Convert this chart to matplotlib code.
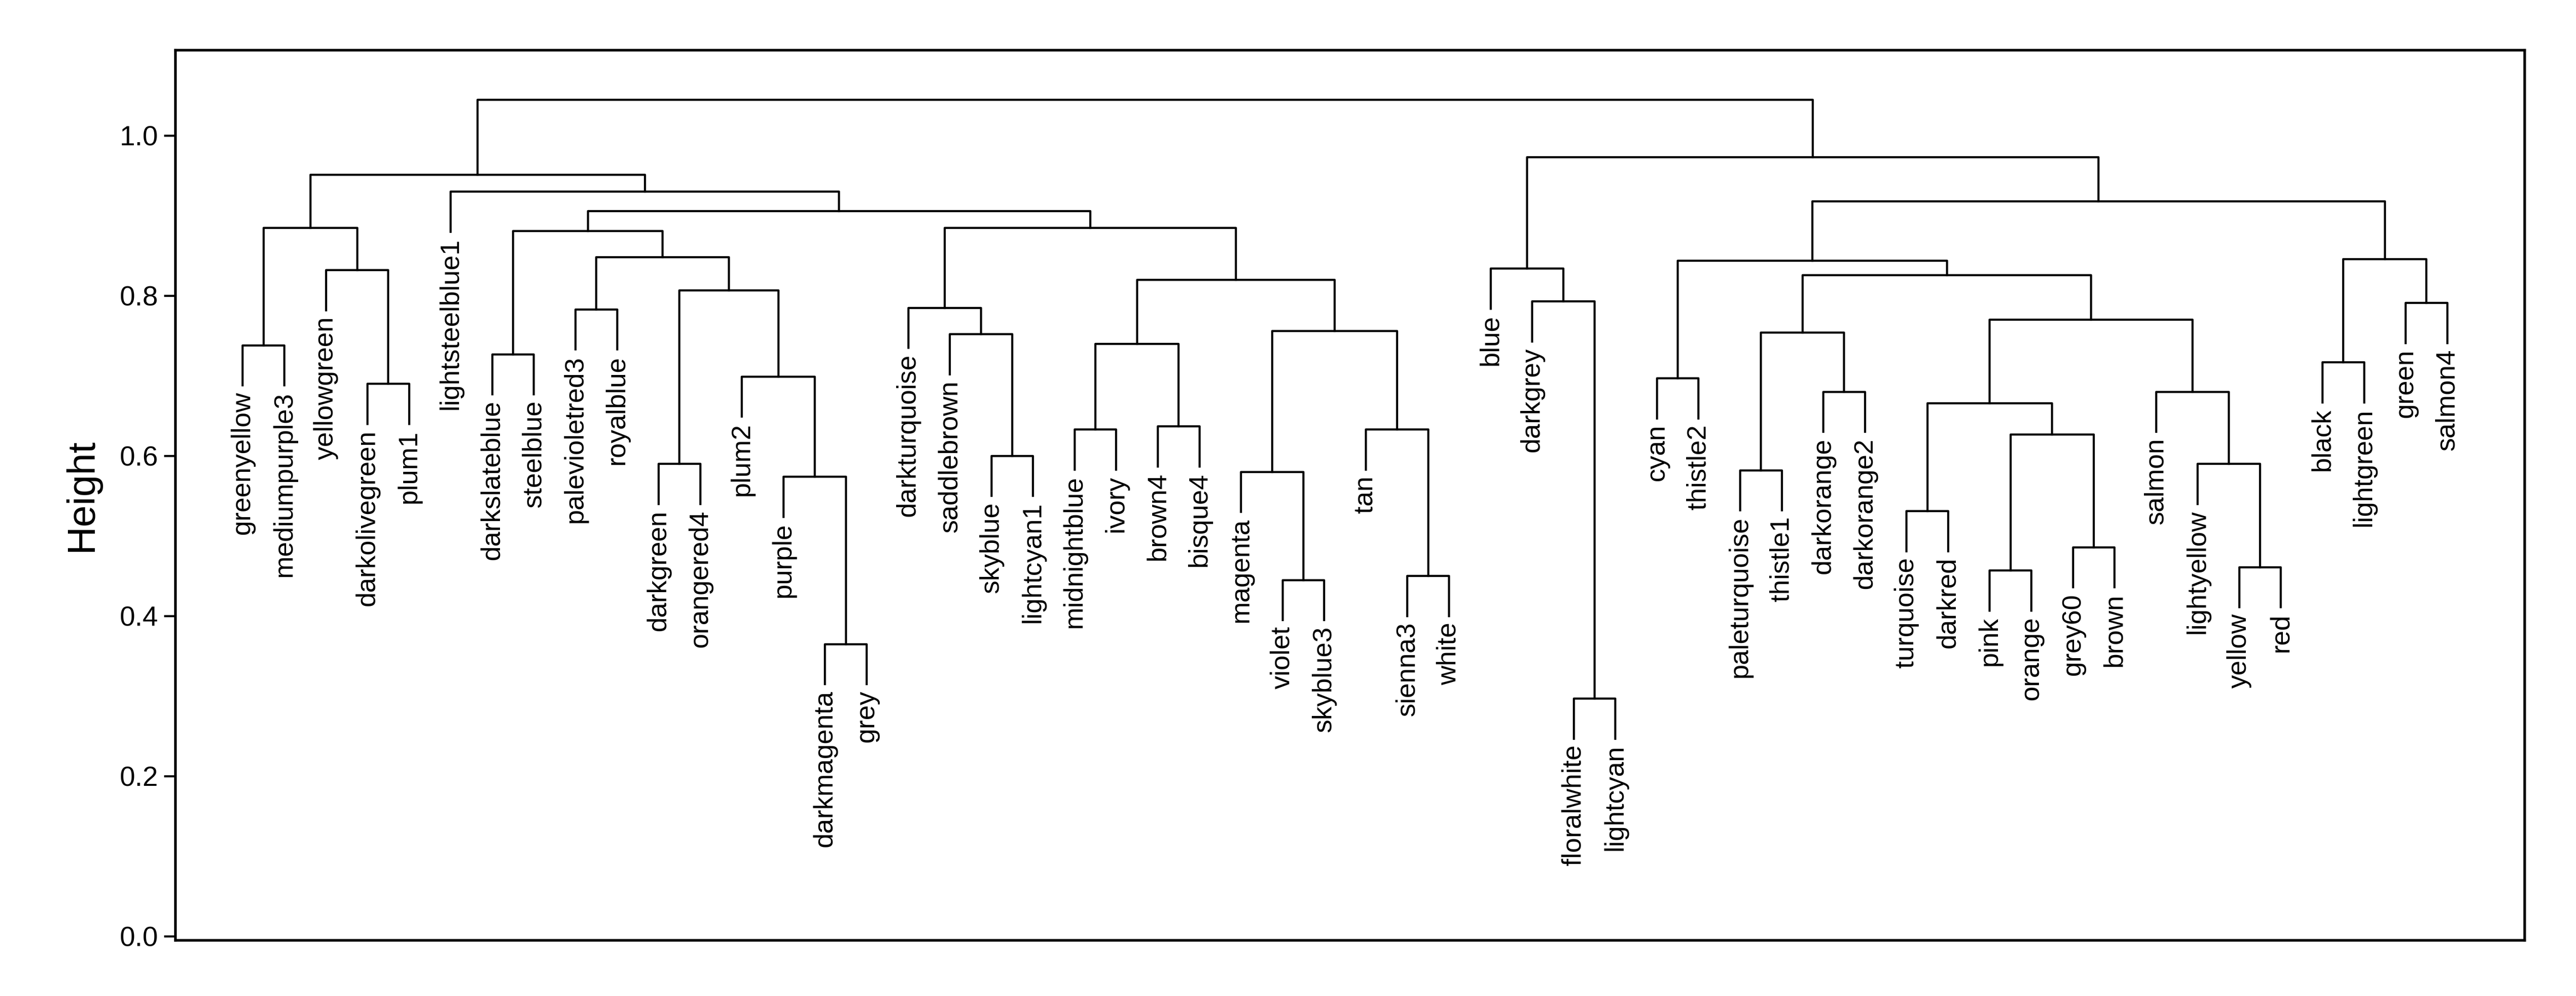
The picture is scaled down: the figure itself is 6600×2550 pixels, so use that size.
import matplotlib
matplotlib.use("Agg")
import matplotlib.pyplot as plt

plt.rcParams['font.family'] = ['Liberation Sans', 'DejaVu Sans']

leaves = ["greenyellow", "mediumpurple3", "yellowgreen", "darkolivegreen", "plum1",
          "lightsteelblue1", "darkslateblue", "steelblue", "palevioletred3", "royalblue",
          "darkgreen", "orangered4", "plum2", "purple", "darkmagenta", "grey",
          "darkturquoise", "saddlebrown", "skyblue", "lightcyan1", "midnightblue", "ivory",
          "brown4", "bisque4", "magenta", "violet", "skyblue3", "tan", "sienna3", "white",
          "blue", "darkgrey", "floralwhite", "lightcyan", "cyan", "thistle2",
          "paleturquoise", "thistle1", "darkorange", "darkorange2", "turquoise", "darkred",
          "pink", "orange", "grey60", "brown", "salmon", "lightyellow", "yellow", "red",
          "black", "lightgreen", "green", "salmon4"]

# merges: (child_a, child_b, height); ints refer to earlier merges
merges = [
    ("greenyellow", "mediumpurple3", 0.738),     # 0
    ("darkolivegreen", "plum1", 0.690),          # 1
    ("yellowgreen", 1, 0.832),                   # 2
    (0, 2, 0.885),                               # 3
    ("darkslateblue", "steelblue", 0.727),       # 4
    ("palevioletred3", "royalblue", 0.783),      # 5
    ("darkmagenta", "grey", 0.365),              # 6
    ("purple", 6, 0.574),                        # 7
    ("plum2", 7, 0.699),                         # 8
    ("darkgreen", "orangered4", 0.590),          # 9
    (9, 8, 0.807),                               # 10
    (5, 10, 0.848),                              # 11
    (4, 11, 0.881),                              # 12
    ("skyblue", "lightcyan1", 0.600),            # 13
    ("saddlebrown", 13, 0.752),                  # 14
    ("darkturquoise", 14, 0.785),                # 15
    ("midnightblue", "ivory", 0.633),            # 16
    ("brown4", "bisque4", 0.637),                # 17
    (16, 17, 0.740),                             # 18
    ("violet", "skyblue3", 0.445),               # 19
    ("magenta", 19, 0.580),                      # 20
    ("sienna3", "white", 0.450),                 # 21
    ("tan", 21, 0.633),                          # 22
    (20, 22, 0.756),                             # 23
    (18, 23, 0.820),                             # 24
    (15, 24, 0.885),                             # 25
    (12, 25, 0.906),                             # 26
    ("lightsteelblue1", 26, 0.930),              # 27
    (3, 27, 0.951),                              # 28
    ("floralwhite", "lightcyan", 0.297),         # 29
    ("darkgrey", 29, 0.793),                     # 30
    ("blue", 30, 0.834),                         # 31
    ("cyan", "thistle2", 0.697),                 # 32
    ("paleturquoise", "thistle1", 0.582),        # 33
    ("darkorange", "darkorange2", 0.680),        # 34
    (33, 34, 0.754),                             # 35
    ("turquoise", "darkred", 0.531),             # 36
    ("pink", "orange", 0.457),                   # 37
    ("grey60", "brown", 0.486),                  # 38
    (37, 38, 0.627),                             # 39
    (36, 39, 0.666),                             # 40
    ("yellow", "red", 0.461),                    # 41
    ("lightyellow", 41, 0.590),                  # 42
    ("salmon", 42, 0.680),                       # 43
    (40, 43, 0.770),                             # 44
    (35, 44, 0.826),                             # 45
    (32, 45, 0.844),                             # 46
    ("black", "lightgreen", 0.717),              # 47
    ("green", "salmon4", 0.791),                 # 48
    (47, 48, 0.846),                             # 49
    (46, 49, 0.918),                             # 50
    (31, 50, 0.973),                             # 51
    (28, 51, 1.045),                             # 52
]

hang = 0.05

fig = plt.figure(figsize=(22, 8.5), dpi=300)
ax = fig.add_axes([0.068, 0.056, 0.912, 0.894])

node_x = {}
node_y = {}

def pos(ref, parent_h):
    if isinstance(ref, str):
        x = leaves.index(ref) + 1
        y = parent_h - hang
        ax.text(x, y - 0.008, ref, rotation=90, ha='center', va='top', fontsize=16.5)
        return x, y
    return node_x[ref], node_y[ref]

for i, (a, b, h) in enumerate(merges):
    xa, ya = pos(a, h)
    xb, yb = pos(b, h)
    ax.plot([xa, xa, xb, xb], [ya, h, h, yb], color='black', lw=1.3)
    node_x[i] = (xa + xb) / 2
    node_y[i] = h

ax.set_xlim(-0.62, 55.86)
ax.set_ylim(-0.005, 1.107)
ax.set_xticks([])
ax.set_yticks([0.0, 0.2, 0.4, 0.6, 0.8, 1.0])
ax.set_yticklabels(["0.0", "0.2", "0.4", "0.6", "0.8", "1.0"], fontsize=17)
ax.tick_params(axis='y', length=7, width=1.3)
ax.set_ylabel("Height", fontsize=24, labelpad=12)
for s in ax.spines.values():
    s.set_linewidth(1.6)

fig.savefig("out.png", dpi=300)
